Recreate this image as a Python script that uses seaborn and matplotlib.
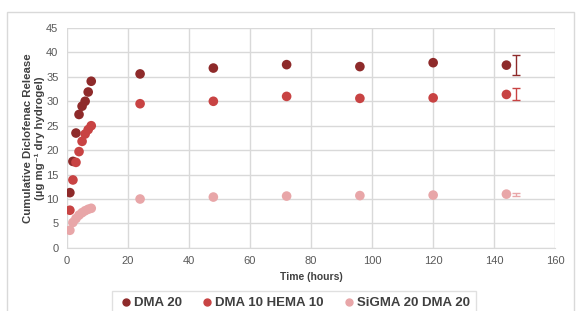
import numpy as np
import pandas as pd
import matplotlib
matplotlib.use("Agg")
import matplotlib.pyplot as plt
import seaborn as sns
from matplotlib.patches import Rectangle

# data
time_h = [1, 2, 3, 4, 5, 6, 7, 8, 24, 48, 72, 96, 120, 144]
dma20 = [11.3, 17.7, 23.5, 27.3, 29.0, 30.0, 31.9, 34.1, 35.6, 36.8, 37.5, 37.1, 37.9, 37.4]
dma10_hema10 = [7.7, 13.9, 17.5, 19.7, 21.8, 23.3, 24.2, 25.0, 29.5, 30.0, 31.0, 30.6, 30.7, 31.4]
sigma20_dma20 = [3.6, 5.2, 6.0, 6.7, 7.2, 7.6, 7.9, 8.1, 10.0, 10.4, 10.6, 10.7, 10.8, 11.0]

series_names = ["DMA 20", "DMA 10 HEMA 10", "SiGMA 20 DMA 20"]
series_colors = ["#8E2A2A", "#C84343", "#E8A6A8"]

# standalone error bars shown beside the last time point
err_x = 147
err_mean = [37.4, 31.5, 11.0]
err_sd = [2.0, 1.2, 0.3]

df = pd.DataFrame({
    "time": time_h * 3,
    "release": dma20 + dma10_hema10 + sigma20_dma20,
    "series": [s for s in series_names for _ in time_h],
})

sns.set_style("white")
plt.rcParams["font.family"] = ["Liberation Sans", "DejaVu Sans"]

fig = plt.figure(figsize=(5.76, 3.11), dpi=100)
ax = fig.add_axes([0.116, 0.203, 0.848, 0.707])

# outer chart frame
fig.patches.append(Rectangle((7 / 576, -0.1), 567 / 576, 1.1 - 12 / 311,
                             transform=fig.transFigure, fill=False,
                             edgecolor="#D9D9D9", lw=1))

sns.scatterplot(data=df, x="time", y="release", hue="series",
                hue_order=series_names, palette=series_colors,
                s=48, edgecolor="none", linewidth=0, ax=ax, legend=False,
                zorder=3)

for m, sd, c in zip(err_mean, err_sd, series_colors):
    ax.errorbar(err_x, m, yerr=sd, fmt="none", ecolor=c, elinewidth=1,
                capsize=3, capthick=1, zorder=3)

ax.set_xlim(0, 160)
ax.set_ylim(0, 45)
ax.set_xticks(np.arange(0, 161, 20))
ax.set_yticks(np.arange(0, 46, 5))
ax.grid(True, color="#D9D9D9", lw=1)
ax.set_axisbelow(True)
for side in ["top", "right", "left"]:
    ax.spines[side].set_visible(False)
ax.spines["bottom"].set_color("#D9D9D9")
ax.tick_params(axis="both", length=0, labelsize=8, labelcolor="#595959", pad=6)

ax.set_xlabel("Time (hours)", fontsize=7.5, fontweight="bold", color="#404040", labelpad=4)
ax.set_ylabel("Cumulative Diclofenac Release\n(µg mg⁻¹ dry hydrogel)",
              fontsize=8.2, fontweight="bold", color="#404040", labelpad=1,
              linespacing=1.15)

handles = [plt.Line2D([], [], marker="o", ls="none", color=c, markersize=5)
           for c in series_colors]
leg = fig.legend(handles, series_names, loc="lower center",
                 bbox_to_anchor=(0.511, -0.035), ncol=3, frameon=True,
                 fancybox=False, edgecolor="#D9D9D9", handletextpad=0.05,
                 handlelength=1.1, columnspacing=1.4, borderpad=0.45,
                 prop={"weight": "bold", "size": 9.5})
for t in leg.get_texts():
    t.set_color("#404040")

fig.savefig("out.png", dpi=100)
